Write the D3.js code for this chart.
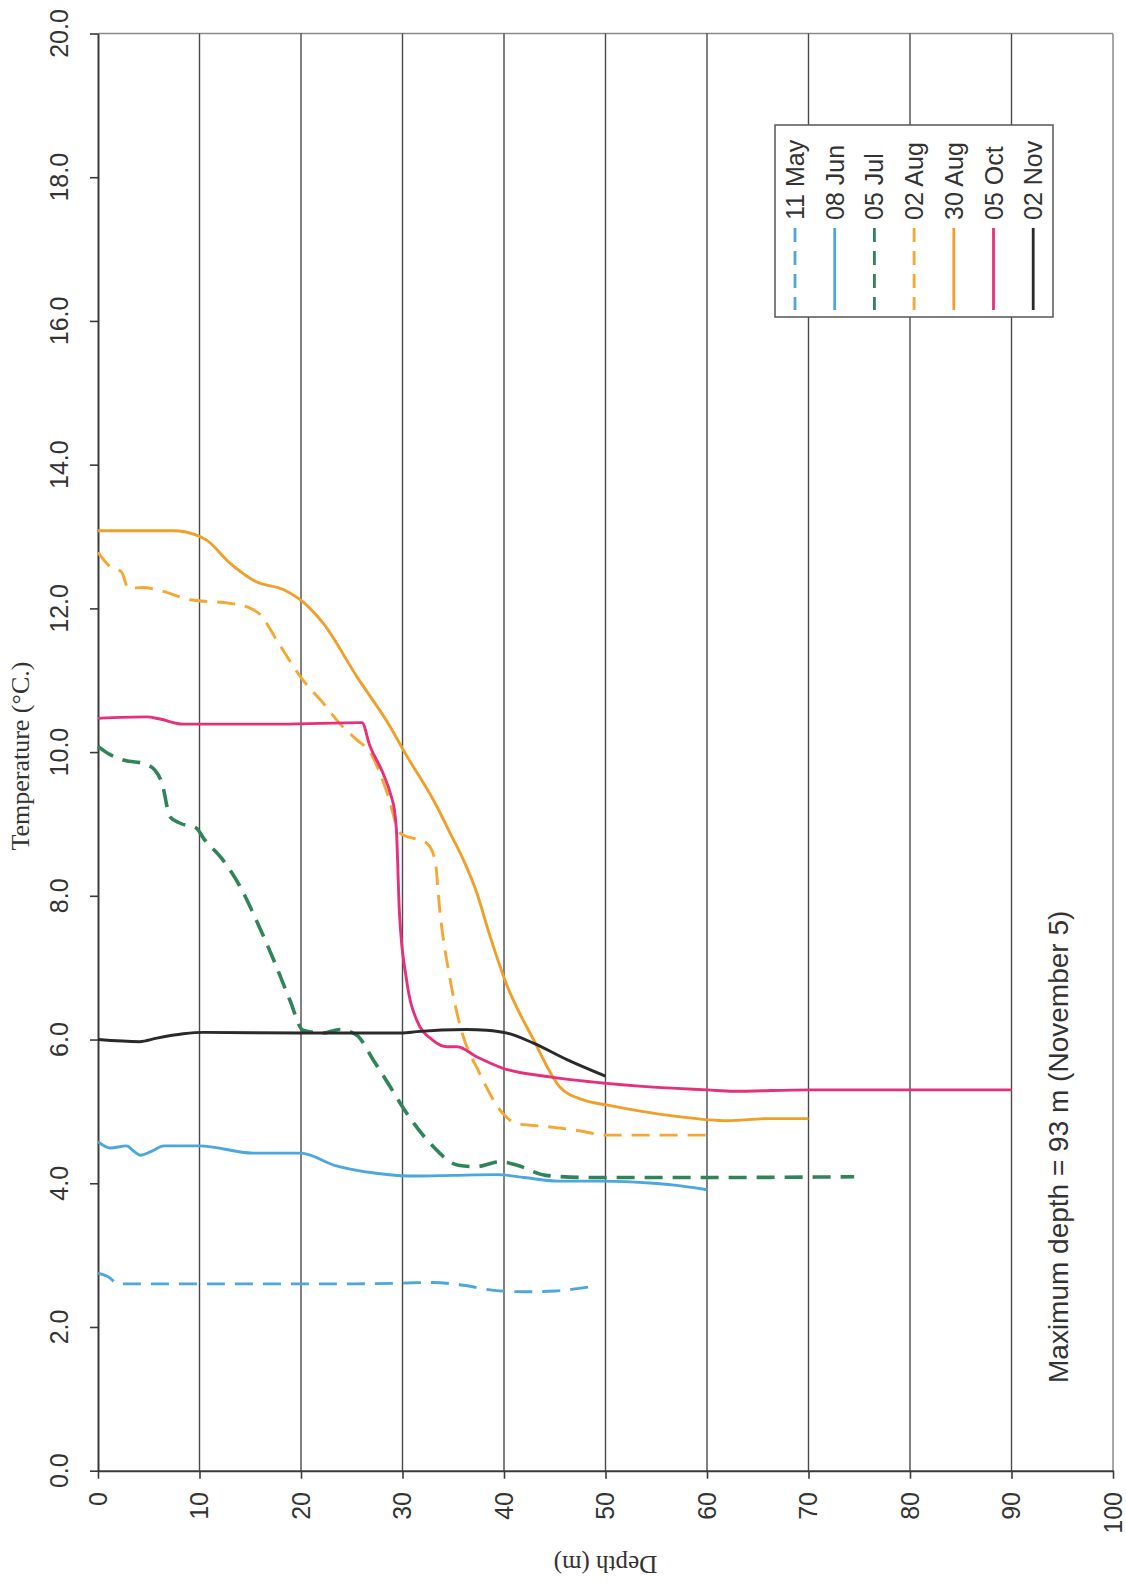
<!DOCTYPE html>
<html>
<head>
<meta charset="utf-8">
<script src="https://cdn.jsdelivr.net/npm/d3@7"></script>
<style>
  body { margin: 0; background: #fff; }
  svg { display: block; }
</style>
</head>
<body>
<div id="chart"></div>
<script>
// depth (m) / temperature (deg C) profiles
var may11 = [[0,2.75],[1,2.7],[2,2.6],[5,2.6],[10,2.6],[20,2.6],[25,2.6],[30,2.61],[33,2.62],[36,2.58],[39,2.51],[42,2.49],[45,2.5],[47,2.53],[49,2.57]];
var jun08 = [[0,4.58],[1.2,4.49],[2.8,4.52],[3.5,4.45],[4.2,4.39],[5.2,4.44],[6.5,4.52],[10,4.52],[15.3,4.42],[20,4.42],[23.3,4.25],[27.4,4.14],[31.4,4.1],[35,4.11],[39.4,4.12],[42,4.08],[45.4,4.03],[49.5,4.03],[54.7,4.0],[57,3.97],[60,3.91]];
var jul05 = [[0,10.08],[1,9.98],[2.5,9.89],[4.5,9.84],[5.6,9.75],[6.3,9.57],[7.1,9.1],[8.1,9.01],[9.7,8.94],[10.4,8.8],[12.3,8.5],[14,8.13],[15.6,7.66],[17.3,7.11],[18.9,6.55],[20.2,6.13],[22.2,6.09],[23.8,6.14],[25.5,6.06],[27.1,5.72],[28.8,5.34],[30.2,5.02],[32.7,4.56],[35.5,4.25],[37.2,4.23],[39.6,4.3],[41.3,4.25],[44.1,4.11],[48.2,4.08],[60,4.08],[74.5,4.09]];
var aug02 = [[0,12.78],[1.2,12.58],[2.3,12.51],[3,12.28],[4.5,12.29],[5.8,12.26],[9.1,12.12],[13,12.07],[14.7,12.02],[16,11.91],[17.6,11.56],[20.2,11.0],[22.2,10.68],[23.8,10.4],[25.5,10.17],[26.8,10.0],[28.4,9.47],[29.8,8.87],[32.4,8.73],[33.2,8.5],[33.7,7.76],[34.7,6.83],[35.7,6.18],[37.6,5.53],[39.9,4.97],[41.3,4.83],[44.1,4.79],[47,4.74],[50.2,4.67],[60,4.67]];
var aug30 = [[0,13.08],[7.4,13.08],[9.7,13.02],[10.7,12.95],[13,12.63],[15.6,12.37],[18.3,12.26],[20.2,12.09],[22.2,11.79],[25.5,11.05],[28.8,10.35],[30.2,10.0],[33.4,9.24],[34.7,8.87],[36,8.5],[37.3,8.05],[38.6,7.45],[40.3,6.75],[42.9,6.0],[45.5,5.34],[47.8,5.16],[50.1,5.09],[57,4.93],[62,4.87],[66,4.9],[70,4.9]];
var oct05 = [[0,10.47],[4.8,10.49],[6.1,10.46],[8.4,10.39],[18,10.39],[26,10.41],[26.8,10.08],[28.1,9.7],[28.9,9.38],[29.2,9.2],[29.4,8.92],[29.7,7.76],[30.4,6.83],[31.4,6.27],[33,5.99],[34.4,5.9],[35.4,5.9],[37.3,5.76],[39.9,5.6],[44.5,5.48],[50.1,5.39],[57,5.32],[60,5.3],[62.6,5.28],[70,5.3],[90,5.3]];
var nov02 = [[0,6.0],[4.1,5.97],[5.8,6.02],[8.4,6.08],[10.4,6.1],[20,6.09],[30,6.09],[31.4,6.11],[36.3,6.14],[38.3,6.13],[40.3,6.09],[42.9,5.95],[46.2,5.72],[50,5.49]];

var seriesNames = ["11 May", "08 Jun", "05 Jul", "02 Aug", "30 Aug", "05 Oct", "02 Nov"];
var seriesData = [may11, jun08, jul05, aug02, aug30, oct05, nov02];
var seriesColors = ["#4ba7dd", "#4ba7dd", "#2f8459", "#f6a733", "#f0a028", "#e6307b", "#2a2a2a"];
var seriesDashed = [true, false, true, true, false, false, false];

var depthTicks = [0, 10, 20, 30, 40, 50, 60, 70, 80, 90, 100];
var tempTicks = [0, 2, 4, 6, 8, 10, 12, 14, 16, 18, 20];

var W = 1126, H = 1585;
var x0 = 98, x1 = 1113, yTop = 33.5, yBot = 1470.7;

var svg = d3.select("#chart").append("svg")
    .attr("width", W)
    .attr("height", H)
    .style("font-family", "Arial, 'Liberation Sans', sans-serif");

var x = d3.scaleLinear().domain([0, 100]).range([x0, x1]);
var y = d3.scaleLinear().domain([0, 20]).range([yBot, yTop]);

// frame + vertical grid
svg.append("line")
    .attr("x1", x0).attr("x2", x1).attr("y1", yTop).attr("y2", yTop)
    .attr("stroke", "#8a8a8a").attr("stroke-width", 1.5);
svg.append("line")
    .attr("x1", x1).attr("x2", x1).attr("y1", yTop).attr("y2", yBot)
    .attr("stroke", "#8a8a8a").attr("stroke-width", 1.5);

svg.selectAll("line.grid")
  .data(depthTicks.slice(1, -1))
  .enter().append("line")
    .attr("class", "grid")
    .attr("x1", function(d) { return x(d); })
    .attr("x2", function(d) { return x(d); })
    .attr("y1", yTop).attr("y2", yBot)
    .attr("stroke", "#4a4a4a").attr("stroke-width", 1.4);

// axes
svg.append("g")
    .attr("transform", "translate(0," + yBot + ")")
    .call(d3.axisBottom(x).tickValues(depthTicks).tickSize(8).tickSizeOuter(0).tickFormat(""));
svg.append("g")
    .attr("transform", "translate(" + x0 + ",0)")
    .call(d3.axisLeft(y).tickValues(tempTicks).tickSize(8).tickSizeOuter(0).tickFormat(""));

svg.selectAll(".domain").attr("stroke", "#3a3a3a").attr("stroke-width", 2);
svg.selectAll(".tick line").attr("stroke", "#3a3a3a").attr("stroke-width", 1.6);

// tick labels (rotated like the scanned page)
svg.selectAll("text.xlab")
  .data(depthTicks)
  .enter().append("text")
    .attr("class", "xlab")
    .attr("transform", function(d) { return "translate(" + x(d) + ",1492) rotate(-90)"; })
    .attr("text-anchor", "end")
    .attr("dy", "0.35em")
    .attr("font-size", 25)
    .attr("fill", "#333")
    .text(function(d) { return d; });

svg.selectAll("text.ylab")
  .data(tempTicks)
  .enter().append("text")
    .attr("class", "ylab")
    .attr("transform", function(d) { return "translate(68," + y(d) + ") rotate(-90)"; })
    .attr("text-anchor", "middle")
    .attr("font-size", 25)
    .attr("fill", "#333")
    .text(function(d) { return d.toFixed(1); });

// axis titles
svg.append("text")
    .attr("transform", "translate(29," + ((yTop + yBot) / 2 + 4) + ") rotate(-90)")
    .attr("text-anchor", "middle")
    .attr("font-family", "'Liberation Serif', 'Times New Roman', serif")
    .attr("font-size", 26)
    .attr("fill", "#333")
    .text("Temperature (°C.)");

svg.append("text")
    .attr("transform", "translate(" + ((x0 + x1) / 2) + ",1556) rotate(180)")
    .attr("text-anchor", "middle")
    .attr("font-family", "'Liberation Serif', 'Times New Roman', serif")
    .attr("font-size", 25)
    .attr("fill", "#333")
    .text("Depth (m)");

svg.append("text")
    .attr("transform", "translate(1068,1383) rotate(-90)")
    .attr("text-anchor", "start")
    .attr("font-size", 28)
    .attr("fill", "#333")
    .text("Maximum depth = 93 m (November 5)");

// profiles
var line = d3.line()
    .x(function(d) { return x(d[0]); })
    .y(function(d) { return y(d[1]); })
    .curve(d3.curveMonotoneX);

svg.selectAll("path.profile")
  .data(seriesData)
  .enter().append("path")
    .attr("class", "profile")
    .attr("d", line)
    .attr("fill", "none")
    .attr("stroke", function(d, i) { return seriesColors[i]; })
    .attr("stroke-width", function(d, i) { return i == 2 ? 3.6 : 2.9; })
    .attr("stroke-dasharray", function(d, i) { return seriesDashed[i] ? "18,10" : null; });

// legend
var legend = svg.append("g");
legend.append("rect")
    .attr("x", 775).attr("y", 125)
    .attr("width", 278).attr("height", 192)
    .attr("fill", "#fff")
    .attr("stroke", "#555").attr("stroke-width", 1.5);

var item = legend.selectAll("g.item")
  .data(seriesNames)
  .enter().append("g")
    .attr("class", "item")
    .attr("transform", function(d, i) { return "translate(" + (795 + i * 39.7) + ",0)"; });

item.append("line")
    .attr("x1", 0).attr("x2", 0)
    .attr("y1", 228).attr("y2", 310)
    .attr("stroke", function(d, i) { return seriesColors[i]; })
    .attr("stroke-width", 2.8)
    .attr("stroke-dasharray", function(d, i) { return seriesDashed[i] ? "14,9" : null; });

item.append("text")
    .attr("transform", "translate(0,220) rotate(-90)")
    .attr("dy", "0.36em")
    .attr("font-size", 25)
    .attr("fill", "#333")
    .text(function(d) { return d; });
</script>
</body>
</html>
